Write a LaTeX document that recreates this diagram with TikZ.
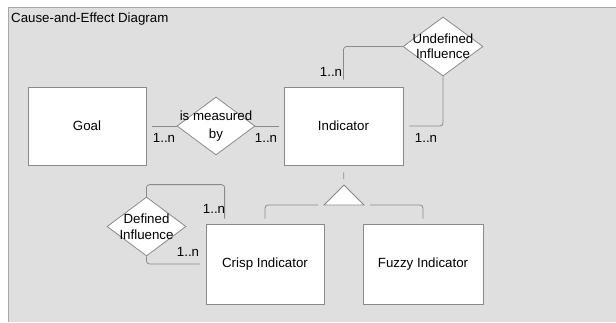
\documentclass[tikz,border=0pt]{standalone}
\usepackage{fontspec}
\setmainfont{Liberation Sans}
\usetikzlibrary{shapes.geometric}
\definecolor{bg}{HTML}{DFDFDF}
\definecolor{ln}{HTML}{8A8A8A}
\definecolor{frame}{HTML}{A8A8A8}
\begin{document}
\begin{tikzpicture}[x=1pt,y=-1pt, font=\fontsize{13.3}{16}\selectfont,
  box/.style={draw=ln, fill=white, inner sep=0pt, line width=0.8pt},
  rel/.style={diamond, draw=ln, fill=white, inner sep=0pt, line width=0.8pt},
  conn/.style={draw=ln, line width=0.8pt, rounded corners=3pt},
  card/.style={inner sep=0pt}]
\useasboundingbox (0,0) rectangle (616,322);
\fill[bg] (8,7) rectangle (616,322);
\draw[frame, line width=0.8pt] (8,322) -- (8,7) -- (616,7);
\node[anchor=west, inner sep=0pt] (title) at (11,19) {Cause-and-Effect Diagram};
% entities
\node[box, minimum width=118pt, minimum height=78pt] (goal) at (87,126) {Goal};
\node[box, minimum width=119pt, minimum height=78pt] (ind) at (343.5,126) {Indicator};
\node[box, minimum width=118pt, minimum height=80pt] (crisp) at (265,264) {Crisp Indicator};
\node[box, minimum width=120pt, minimum height=80pt] (fuzzy) at (423,264) {Fuzzy Indicator};
% relationships
\node[rel, minimum width=78pt, minimum height=58pt,
  label={[align=center, inner sep=0pt, font=\fontsize{13.3}{18}\selectfont]center:is measured\\by}] (mbd) at (216,126) {};
\node[rel, minimum width=80pt, minimum height=59pt,
  label={[align=center, inner sep=0pt, font=\fontsize{13.3}{15}\selectfont]center:Undefined\\Influence}] (udf) at (443,46.5) {};
\node[rel, minimum width=79pt, minimum height=59pt,
  label={[align=center, inner sep=0pt, font=\fontsize{13.3}{16.5}\selectfont]center:Defined\\Influence}] (dfd) at (146.5,226.5) {};
% generalisation triangle
\draw[draw=ln, fill=white, line width=0.8pt] (344,185) coordinate (ta) -- (364,205) coordinate (tr) -- (324,205) coordinate (tl) -- cycle;
% connectors
\draw[conn, shorten <=6pt] (goal.east) -- (mbd.west);
\draw[conn, shorten >=5pt] (mbd.east) -- (ind.west);
\draw[conn, shorten >=7pt] (udf.west) -| (ind.north);
\draw[conn, shorten >=6pt] (udf.south) |- (ind.east);
\draw[conn, shorten >=5pt] (dfd.north) -- ++(0,-12) -| ([xshift=19pt]crisp.north west);
\draw[conn, shorten >=6pt] (dfd.south) |- (crisp.west);
\draw[conn, shorten <=7pt, shorten >=6pt] (ind.south) -- (ta);
\draw[conn, shorten >=5pt] ([xshift=-6pt]tl) -| (crisp.north);
\draw[conn, shorten >=5pt] ([xshift=6pt]tr) -| (fuzzy.north);
% cardinalities
\node[card] (c1) at (164,138) {1..n};
\node[card] (c2) at (266,138) {1..n};
\node[card] (c3) at (331,72) {1..n};
\node[card] (c4) at (426,138) {1..n};
\node[card] (c5) at (214,209) {1..n};
\node[card] (c6) at (188,252) {1..n};
\end{tikzpicture}
\end{document}
